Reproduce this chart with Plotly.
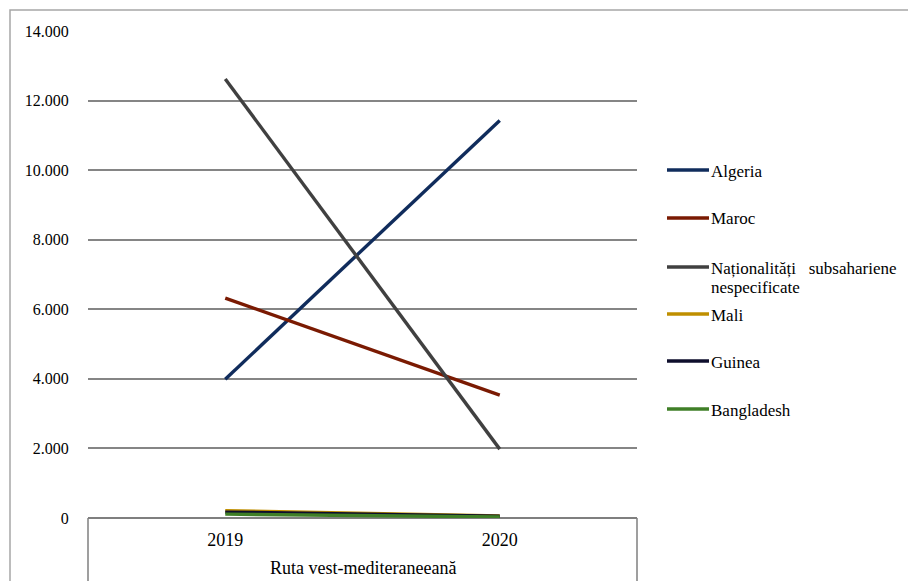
import plotly.graph_objects as go

# Arrivals on the Western Mediterranean route, by nationality
years = ["2019", "2020"]
route = "Ruta vest-mediteraneeană"

series_names = [
    "Algeria",
    "Maroc",
    "Naționalități\u00a0\u00a0\u00a0subsahariene<br>nespecificate",
    "Mali",
    "Guinea",
    "Bangladesh",
]
algeria = [3990, 11430]
maroc = [6320, 3530]
nationalitati = [12620, 1980]
mali = [210, 60]
guinea = [170, 50]
bangladesh = [110, 30]
series_values = [algeria, maroc, nationalitati, mali, guinea, bangladesh]
series_colors = ["#102c5c", "#7a1a02", "#404040", "#bf8f00", "#0e0e2c", "#3f7f27"]

y_ticks = [0, 2000, 4000, 6000, 8000, 10000, 12000, 14000]

FONT = "Liberation Serif"
W, H = 908, 581
ML, MR, MT, MB = 88, 271, 31, 63
plot_w = W - ML - MR
plot_h = H - MT - MB


def px_to_paper_x(px):
    return (px - ML) / plot_w


def px_to_paper_y(py):
    return (H - MB - py) / plot_h


fig = go.Figure()
for name, vals, col in zip(series_names, series_values, series_colors):
    fig.add_trace(go.Scatter(
        x=years, y=vals, mode="lines", name=name.replace("<br>", " "),
        line=dict(color=col, width=3.4), showlegend=False,
    ))

shapes = []
annotations = []

# outer chart frame
shapes.append(dict(type="rect", xref="paper", yref="paper",
                   x0=px_to_paper_x(10), x1=px_to_paper_x(915),
                   y0=px_to_paper_y(590), y1=px_to_paper_y(10),
                   line=dict(color="#a6a6a6", width=1.5), layer="below"))

# category dividers under the x axis
for xp in (0, 1):
    shapes.append(dict(type="line", xref="paper", yref="paper",
                       x0=xp, x1=xp, y0=0, y1=px_to_paper_y(590),
                       line=dict(color="#7f7f7f", width=1.5)))

annotations.append(dict(text=route, xref="paper", yref="paper",
                        x=0.5, y=px_to_paper_y(568), xanchor="center", yanchor="middle",
                        showarrow=False, font=dict(family=FONT, size=18, color="#000")))

# legend drawn at the right of the plot
legend_rows = [170, 218, 267, 314, 361, 409]
line_step = 19
for name, col, yrow in zip(series_names, series_colors, legend_rows):
    yp = px_to_paper_y(yrow)
    shapes.append(dict(type="line", xref="paper", yref="paper",
                       x0=px_to_paper_x(667), x1=px_to_paper_x(709), y0=yp, y1=yp,
                       line=dict(color=col, width=3.5)))
    for k, part in enumerate(name.split("<br>")):
        annotations.append(dict(text=part, xref="paper", yref="paper",
                                x=px_to_paper_x(709), y=px_to_paper_y(yrow + 1 + k * line_step),
                                xanchor="left", yanchor="middle", align="left",
                                showarrow=False,
                                font=dict(family=FONT, size=17, color="#000")))

fig.update_layout(
    width=W, height=H,
    margin=dict(l=ML, r=MR, t=MT, b=MB, pad=0),
    paper_bgcolor="white", plot_bgcolor="white",
    separators=",.",
    font=dict(family=FONT, size=16, color="#000"),
    shapes=shapes, annotations=annotations,
    showlegend=False,
)
fig.update_xaxes(
    type="category", range=[-0.5, 1.5],
    showgrid=False, zeroline=False,
    showline=False,
    ticks="outside", ticklen=5, tickcolor="rgba(0,0,0,0)",
    tickfont=dict(family=FONT, size=18, color="#000"),
)
fig.update_yaxes(
    range=[0, 14000], tickvals=y_ticks, tickformat=",d",
    showgrid=True, gridcolor="#858585", gridwidth=1.5,
    zeroline=True, zerolinecolor="#7f7f7f", zerolinewidth=1.5,
    showline=False,
    ticks="outside", ticklen=15, tickcolor="rgba(0,0,0,0)",
    tickfont=dict(family=FONT, size=16, color="#000"),
)

fig.write_html("out.html")
